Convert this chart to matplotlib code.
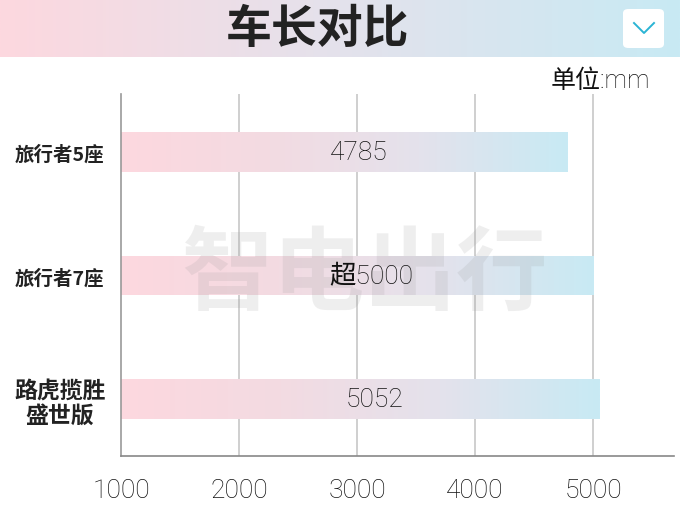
import matplotlib
import numpy as np

matplotlib.use('Agg')
from matplotlib import pyplot as plt
from matplotlib import transforms
from matplotlib.colors import LinearSegmentedColormap
from matplotlib.patches import FancyBboxPatch
from matplotlib.lines import Line2D

plt.rcParams['font.family'] = ['Noto Sans CJK SC', 'DejaVu Sans']

title = "车长对比"
unit = "单位:mm"
categories = ["旅行者5座", "旅行者7座", "路虎揽胜\n盛世版"]
lengths = [4785, 5000, 5052]
value_labels = ["4785", "超5000", "5052"]
x_ticks = [1000, 2000, 3000, 4000, 5000]

num_font = ['Roboto', 'Noto Sans CJK SC', 'DejaVu Sans']

pink = "#fdd8df"
cyan = "#c8eaf4"
grad = LinearSegmentedColormap.from_list("pc", [pink, "#f3dbe2", "#e4e2ec", cyan])
ramp = np.linspace(0, 1, 256).reshape(1, -1)

fig = plt.figure(figsize=(6.8, 5.1), dpi=100, facecolor="white")

# header band
hax = fig.add_axes([0, 1 - 58 / 510, 1, 58 / 510])
hax.imshow(ramp, aspect="auto", cmap=LinearSegmentedColormap.from_list(
    "hd", [pink, "#e4e2ec", cyan]), extent=[0, 1, 0, 1])
hax.set_xlim(0, 1)
hax.set_ylim(0, 1)
hax.axis("off")
fig.text(318 / 680, 1 - 30 / 510, title, ha="center", va="center",
         fontsize=33, fontweight="black", color="#222222")

# chevron button
box = FancyBboxPatch((623 / 680, 1 - 49 / 510), 41 / 680, 39 / 510,
                     boxstyle="round,pad=0,rounding_size=0.008",
                     transform=fig.transFigure, facecolor="white",
                     edgecolor="none")
fig.patches.append(box)
fig.lines.append(Line2D([634 / 680, 644 / 680, 654 / 680],
                        [1 - 24 / 510, 1 - 34 / 510, 1 - 24 / 510],
                        transform=fig.transFigure, color="#2ab4d4", lw=1.4))

fig.text(650 / 680, 1 - 81 / 510, unit, ha="right", va="center",
         fontsize=18, fontweight="light", color="#111111", family=num_font)

ax = fig.add_axes([121 / 680, 53 / 510, 553 / 680, 362 / 510])
ypos = np.arange(len(categories))
bars = ax.barh(ypos, [v - 1000 for v in lengths], left=1000, height=0.32,
               color="none", edgecolor="none", zorder=2)
for b in bars:
    x0, y0 = b.get_x(), b.get_y()
    im = ax.imshow(ramp, aspect="auto", cmap=grad, zorder=2,
                   extent=[x0, x0 + b.get_width(), y0 + b.get_height(), y0])
    im.set_clip_path(b)

for y, v, lab in zip(ypos, lengths, value_labels):
    ax.text((1000 + v) / 2 + 120, y, lab, ha="center", va="center",
            fontsize=19, fontweight="light", color="#111111", zorder=4,
            family=num_font)

ax.set_xlim(1000, 5686)
ax.set_ylim(2.46, -0.47)
ax.set_xticks(x_ticks)
ax.set_xticklabels([str(t) for t in x_ticks], fontsize=19,
                   fontweight="light", color="#111111", family=num_font)
first = ax.get_xticklabels()[0]
first.set_transform(first.get_transform() +
                    transforms.ScaledTranslation(0.16, 0, fig.dpi_scale_trans))
ax.set_yticks(ypos)
ax.set_yticklabels(categories, fontsize=14, fontweight="bold",
                   color="#222222", linespacing=1.1)
for lab in ax.get_yticklabels():
    lab.set_horizontalalignment("center")
ax.get_yticklabels()[2].set_fontsize(16.5)
ax.tick_params(axis="y", length=0, pad=44)
ax.tick_params(axis="x", length=0, pad=16)

for t in x_ticks[1:]:
    ax.axvline(t, color="#cfcfcf", lw=1.4, zorder=1)

ax.spines['top'].set_visible(False)
ax.spines['right'].set_visible(False)
ax.spines['left'].set_color("#999999")
ax.spines['bottom'].set_color("#888888")
ax.spines['left'].set_linewidth(1.2)
ax.spines['bottom'].set_linewidth(1.2)

# watermark
ax.text(0.44, 0.50, "智电出行", transform=ax.transAxes, ha="center",
        va="center", fontsize=66, fontweight="black", color="#999999",
        alpha=0.16, zorder=3)

fig.savefig("out.png", dpi=100, facecolor="white")
